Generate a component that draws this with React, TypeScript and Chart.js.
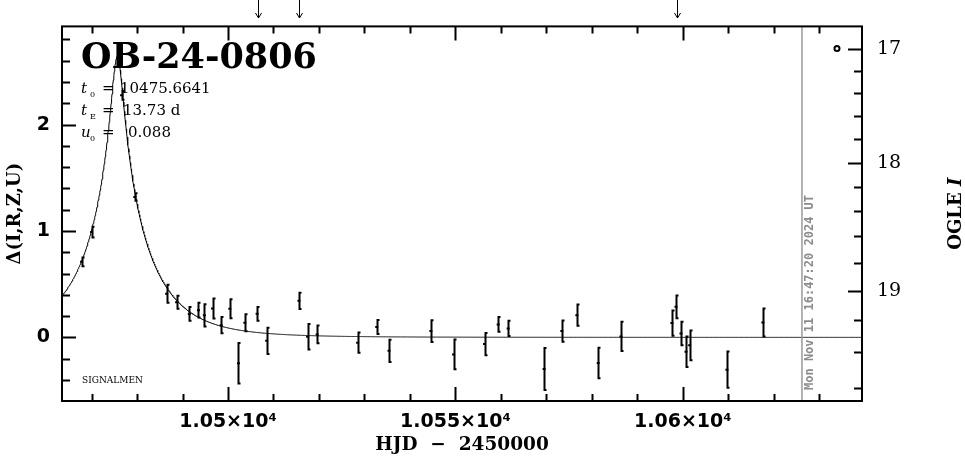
import React, { useEffect, useRef } from "react";
import { Chart, registerables } from "chart.js";

Chart.register(...registerables);

// ---- data ----
const HJD = [
  10467.8, 10470.0, 10476.6, 10479.5, 10486.5, 10488.7, 10491.5, 10493.5, 10494.8, 10496.6,
  10498.5, 10500.4, 10502.3, 10503.7, 10506.4, 10508.5, 10515.6, 10517.5, 10519.6, 10528.5,
  10532.7, 10535.4, 10544.6, 10549.6, 10556.4, 10559.4, 10561.6, 10569.5, 10573.4, 10576.7,
  10581.4, 10586.4, 10597.6, 10598.5, 10599.6, 10600.7, 10601.5, 10609.7, 10617.6,
];
const DELTA = [
  0.71, 0.99, 2.275, 1.32, 0.41, 0.33, 0.22, 0.256, 0.207, 0.272,
  0.115, 0.269, -0.244, 0.137, 0.222, -0.032, 0.344, 0.006, 0.028, -0.05,
  0.097, -0.126, 0.059, -0.16, -0.063, 0.122, 0.084, -0.298, 0.059, 0.209,
  -0.241, 0.009, 0.134, 0.287, 0.037, -0.135, -0.075, -0.304, 0.141,
];
const ERR = [
  0.05, 0.06, 0.05, 0.045, 0.094, 0.07, 0.074, 0.078, 0.113, 0.103,
  0.085, 0.099, 0.2, 0.089, 0.074, 0.133, 0.086, 0.13, 0.092, 0.105,
  0.075, 0.114, 0.111, 0.15, 0.114, 0.078, 0.081, 0.207, 0.11, 0.11,
  0.153, 0.147, 0.128, 0.117, 0.12, 0.153, 0.149, 0.18, 0.141,
];
const ARROW_HJD = [10506.5, 10515.6, 10598.8];

const X_MAJOR = [10500, 10550, 10600];
const X_MAJOR_LABELS = ["1.05×10⁴", "1.055×10⁴", "1.06×10⁴"];
const Y_MAJOR = [0, 1, 2];
const Y_MAJOR_LABELS = ["0", "1", "2"];
const I_MAJOR = [17, 18, 19];
const I_MAJOR_LABELS = ["17", "18", "19"];

// model parameters (as printed on the chart)
const EVENT = "OB-24-0806";
const T0 = 10475.6641;
const TE = 13.73;
const U0 = 0.088;
// blending / baseline used for the OGLE I axis
const I_BASE = 19.309;
const BLEND = 0.514;

const NOW_HJD = 10626.2;
const NOW_LABEL = "Mon Nov 11 16:47:20 2024 UT";
const OGLE_MARK_HJD = 10633.9;
const OGLE_MARK_I = 17;

const X_MIN = 10463.5;
const X_MAX = 10639.4;
const Y_MIN = -0.598;
const Y_MAX = 2.923;

function magnification(t: number) {
  const tau = (t - T0) / TE;
  const u = Math.sqrt(U0 * U0 + tau * tau);
  return (u * u + 2) / (u * Math.sqrt(u * u + 4));
}
function iToDelta(I: number) {
  const A = (1 + BLEND) * Math.pow(10, 0.4 * (I_BASE - I)) - BLEND;
  return 2.5 * Math.log10(A);
}

const W = 965;
const H = 459;

export default function App() {
  const ref = useRef<HTMLCanvasElement | null>(null);

  useEffect(() => {
    document.body.style.margin = "0";
    const canvas = ref.current;
    if (!canvas) return;

    const model: { x: number; y: number }[] = [];
    const n = Math.round((X_MAX - X_MIN) / 0.1);
    for (let k = 0; k <= n; k++) {
      const t = X_MIN + (k * (X_MAX - X_MIN)) / n;
      model.push({ x: t, y: 2.5 * Math.log10(magnification(t)) });
    }
    model.push({ x: T0, y: 2.5 * Math.log10(magnification(T0)) });
    model.sort((a, b) => a.x - b.x);

    const points = HJD.map((x, i) => ({ x, y: DELTA[i] }));

    const decor = {
      id: "decor",
      afterDatasetsDraw(chart: any) {
        const ctx = chart.ctx as CanvasRenderingContext2D;
        const ys = chart.scales.y;
        const meta = chart.getDatasetMeta(1);
        ctx.save();
        ctx.strokeStyle = "#000";
        ctx.lineWidth = 2;
        meta.data.forEach((el: any, i: number) => {
          const x = Math.round(el.x) + 0.5;
          const yt = ys.getPixelForValue(DELTA[i] + ERR[i]);
          const yb = ys.getPixelForValue(DELTA[i] - ERR[i]);
          ctx.beginPath();
          ctx.moveTo(x, yt);
          ctx.lineTo(x, yb);
          ctx.moveTo(x - 1, yt + 1);
          ctx.lineTo(x + 2, yt + 1);
          ctx.moveTo(x - 1, yb - 1);
          ctx.lineTo(x + 2, yb - 1);
          ctx.stroke();
        });
        ctx.restore();
      },
      afterDraw(chart: any) {
        const ctx = chart.ctx as CanvasRenderingContext2D;
        const a = chart.chartArea;
        const xs = chart.scales.x;
        const ys = chart.scales.y;
        ctx.save();

        // "now" line
        const xn = xs.getPixelForValue(NOW_HJD);
        ctx.strokeStyle = "#9a9a9a";
        ctx.lineWidth = 1.5;
        ctx.beginPath();
        ctx.moveTo(xn, a.top);
        ctx.lineTo(xn, a.bottom);
        ctx.stroke();
        ctx.save();
        ctx.translate(xn + 8, a.bottom - 11);
        ctx.rotate(-Math.PI / 2);
        ctx.fillStyle = "#8c8c8c";
        ctx.font = 'bold 12px "DejaVu Sans Mono"';
        ctx.textAlign = "left";
        ctx.textBaseline = "middle";
        ctx.fillText(NOW_LABEL, 0, 0);
        ctx.restore();

        // frame
        ctx.strokeStyle = "#000";
        ctx.lineWidth = 2;
        ctx.strokeRect(a.left, a.top, a.right - a.left, a.bottom - a.top);

        // x ticks (top & bottom)
        ctx.lineWidth = 2;
        ctx.beginPath();
        for (let k = Math.ceil(X_MIN / 10); k * 10 < X_MAX; k++) {
          const v = k * 10;
          const px = Math.round(xs.getPixelForValue(v)) + 0.5;
          const len = v % 50 === 0 ? 14 : 7;
          ctx.moveTo(px, a.bottom);
          ctx.lineTo(px, a.bottom - len);
          ctx.moveTo(px, a.top);
          ctx.lineTo(px, a.top + len);
        }
        // left y ticks
        for (let k = Math.ceil(Y_MIN * 5); k / 5 < Y_MAX; k++) {
          const py = Math.round(ys.getPixelForValue(k / 5)) + 0.5;
          if (py > a.bottom - 2 || py < a.top + 2) continue;
          const len = k % 5 === 0 ? 14 : 8;
          ctx.moveTo(a.left, py);
          ctx.lineTo(a.left + len, py);
        }
        // right I ticks
        for (let k = 85; k <= 98; k++) {
          const I = k / 5;
          const py = Math.round(ys.getPixelForValue(iToDelta(I))) + 0.5;
          if (py > a.bottom - 2 || py < a.top + 2) continue;
          const len = k % 5 === 0 ? 14 : 8;
          ctx.moveTo(a.right, py);
          ctx.lineTo(a.right - len, py);
        }
        ctx.stroke();

        // arrows above the frame
        ctx.lineWidth = 1;
        ctx.beginPath();
        ARROW_HJD.forEach((v) => {
          const px = Math.round(xs.getPixelForValue(v)) + 0.5;
          ctx.moveTo(px, 0);
          ctx.lineTo(px, 18);
          ctx.moveTo(px - 3, 13);
          ctx.lineTo(px, 18);
          ctx.lineTo(px + 3, 13);
        });
        ctx.stroke();

        // titles and labels
        ctx.fillStyle = "#000";
        ctx.textAlign = "left";
        ctx.textBaseline = "alphabetic";
        ctx.font = 'bold 35px "DejaVu Serif"';
        ctx.fillText(EVENT, 81, 68);

        const lines: [string, string, string, number, number][] = [
          ["t", "0", "10475.6641", 93, 120],
          ["t", "E", "13.73 d", 115, 123],
          ["u", "0", "0.088", 137, 128],
        ];
        lines.forEach(([v, sub, val, base, vx]) => {
          ctx.font = 'italic 15px "DejaVu Serif"';
          ctx.fillText(v, 81, base);
          ctx.font = '8px "DejaVu Serif"';
          ctx.fillText(sub, 90, base + 4);
          ctx.font = '15px "DejaVu Serif"';
          ctx.fillText("=", 102, base);
          ctx.fillText(val, vx, base);
        });

        ctx.font = '9px "DejaVu Serif"';
        ctx.fillText("SIGNALMEN", 82, 383);

        // axis titles
        ctx.font = 'bold 18.5px "DejaVu Serif"';
        ctx.textAlign = "center";
        ctx.textBaseline = "middle";
        ctx.fillText("HJD  −  2450000", (a.left + a.right) / 2, 445);
        const cy = (a.top + a.bottom) / 2;
        ctx.font = 'bold 18px "DejaVu Serif"';
        ctx.save();
        ctx.translate(15, cy);
        ctx.rotate(-Math.PI / 2);
        ctx.fillText("Δ(I,R,Z,U)", 0, 0);
        ctx.restore();
        ctx.save();
        ctx.translate(956, cy);
        ctx.rotate(-Math.PI / 2);
        ctx.textAlign = "left";
        const w1 = ctx.measureText("OGLE ").width;
        ctx.font = 'bold italic 18px "DejaVu Serif"';
        const w2 = ctx.measureText("I").width;
        const start = -(w1 + w2) / 2;
        ctx.font = 'bold 18px "DejaVu Serif"';
        ctx.fillText("OGLE ", start, 0);
        ctx.font = 'bold italic 18px "DejaVu Serif"';
        ctx.fillText("I", start + w1, 0);
        ctx.restore();

        ctx.restore();
      },
    };

    const chart = new Chart(canvas, {
      type: "scatter",
      data: {
        datasets: [
          {
            type: "line",
            data: model,
            borderColor: "#000",
            borderWidth: 1,
            pointRadius: 0,
            fill: false,
            tension: 0,
          } as any,
          {
            type: "scatter",
            data: points,
            pointStyle: "line",
            pointRadius: 1.5,
            borderColor: "#000",
            borderWidth: 2,
          } as any,
          {
            type: "scatter",
            data: [{ x: OGLE_MARK_HJD, y: iToDelta(OGLE_MARK_I) }],
            pointStyle: "circle",
            pointRadius: 2.5,
            borderColor: "#000",
            borderWidth: 2,
            backgroundColor: "#fff",
          } as any,
        ],
      },
      options: {
        responsive: false,
        animation: false,
        devicePixelRatio: 1,
        layout: { padding: { top: 26, left: 0, right: 0, bottom: 0 } },
        plugins: { legend: { display: false }, tooltip: { enabled: false } },
        scales: {
          x: {
            type: "linear",
            position: "bottom",
            min: X_MIN,
            max: X_MAX,
            grid: { display: false, drawTicks: false },
            border: { display: false },
            ticks: {
              color: "#000",
              font: { family: "DejaVu Sans", size: 19, weight: "bold" },
              padding: 10,
              maxRotation: 0,
              autoSkip: false,
              callback: (_v: any, i: number) => X_MAJOR_LABELS[i],
            },
            afterBuildTicks: (s: any) => {
              s.ticks = X_MAJOR.map((v) => ({ value: v }));
            },
            afterFit: (s: any) => {
              s.height = 58;
            },
          },
          y: {
            type: "linear",
            position: "left",
            min: Y_MIN,
            max: Y_MAX,
            grid: { display: false, drawTicks: false },
            border: { display: false },
            ticks: {
              color: "#000",
              font: { family: "DejaVu Sans", size: 19, weight: "bold" },
              padding: 12,
              autoSkip: false,
              callback: (_v: any, i: number) => Y_MAJOR_LABELS[i],
            },
            afterBuildTicks: (s: any) => {
              s.ticks = Y_MAJOR.map((v) => ({ value: v }));
            },
            afterFit: (s: any) => {
              s.width = 62;
            },
          },
          y2: {
            type: "linear",
            position: "right",
            min: Y_MIN,
            max: Y_MAX,
            grid: { display: false, drawTicks: false },
            border: { display: false },
            ticks: {
              color: "#000",
              font: { family: "DejaVu Serif", size: 19 },
              padding: 15,
              autoSkip: false,
              callback: (_v: any, i: number) => I_MAJOR_LABELS[i],
            },
            afterBuildTicks: (s: any) => {
              s.ticks = I_MAJOR.map((m) => ({ value: iToDelta(m) }));
            },
            afterFit: (s: any) => {
              s.width = 103;
            },
          },
        },
      } as any,
      plugins: [decor],
    });

    return () => chart.destroy();
  }, []);

  return (
    <canvas
      ref={ref}
      width={W}
      height={H}
      style={{ display: "block", width: W, height: H }}
    />
  );
}
